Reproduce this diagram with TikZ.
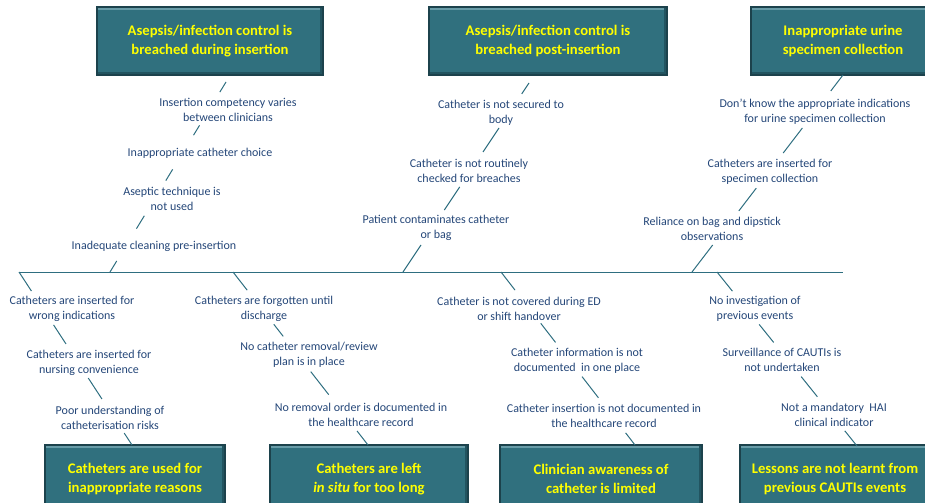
\documentclass[tikz,border=0pt]{standalone}
\usepackage{fontspec}
\setmainfont{Carlito}
\usetikzlibrary{calc}
\definecolor{boneteal}{RGB}{46,110,128}
\definecolor{boxteal}{RGB}{48,112,126}
\definecolor{boxedge}{RGB}{28,66,76}
\definecolor{boxlight}{RGB}{104,156,168}
\definecolor{boxdark}{RGB}{34,84,96}
\definecolor{causeblue}{RGB}{36,70,120}
\definecolor{effectyellow}{RGB}{255,255,0}
\tikzset{
  effect/.style={rectangle, draw=boxedge, line width=0.8pt, fill=boxteal, text=effectyellow,
    font=\fontsize{11}{14}\selectfont\bfseries, align=center, minimum height=51pt,
    path picture={
      \fill[boxlight] (path picture bounding box.north west) rectangle ([yshift=-2.2pt]path picture bounding box.north east);
      \fill[boxdark] (path picture bounding box.south east) rectangle ([xshift=-2.2pt]path picture bounding box.north east);
      \fill[boxdark] (path picture bounding box.south west) rectangle ([yshift=2.2pt]path picture bounding box.south east);
    }},
  cause/.style={text=causeblue, font=\fontsize{9}{11.25}\selectfont, align=center, inner sep=1pt},
  bone/.style={draw=boneteal, line width=0.75pt}
}

\begin{document}
\begin{tikzpicture}[x=0.75pt, y=-0.75pt]
  \useasboundingbox (0,0) rectangle (925,503);
  \clip (0,0) rectangle (925,503);

  % effect boxes, top row
  \node[effect, minimum width=169.5pt] (insertion) at (210,41) {Asepsis/infection control is\\breached during insertion};
  \node[effect, minimum width=178.5pt] (postinsert) at (548,41) {Asepsis/infection control is\\breached post-insertion};
  \node[effect, minimum width=138pt] (specimen) at (843,41) {Inappropriate urine\\specimen collection};

  % effect boxes, bottom row
  \node[effect, minimum width=135pt] (reasons) at (135,479) {Catheters are used for\\inappropriate reasons};
  \node[effect, minimum width=148.5pt] (toolong) at (369,479) {Catheters are left\\\textit{in situ} for too long};
  \node[effect, minimum width=151.5pt] (awareness) at (601,479) {Clinician awareness of\\catheter is limited};
  \node[effect, minimum width=142.5pt] (lessons) at (835,479) {Lessons are not learnt from\\previous CAUTIs events};

  % causes above the spine
  \node[cause] (competency) at (228,109.5) {Insertion competency varies\\between clinicians};
  \node[cause] (choice) at (200,153) {Inappropriate catheter choice};
  \node[cause] (aseptic) at (172,199) {Aseptic technique is\\not used};
  \node[cause] (cleaning) at (154,246) {Inadequate cleaning pre-insertion};

  \node[cause] (secured) at (501,112.5) {Catheter is not secured to\\body};
  \node[cause] (checked) at (469,170.5) {Catheter is not routinely\\checked for breaches};
  \node[cause] (contaminates) at (436,228) {Patient contaminates catheter\\or bag};

  \node[cause] (indications) at (815,111.5) {Don’t know the appropriate indications\\for urine specimen collection};
  \node[cause] (forspecimen) at (770,171.5) {Catheters are inserted for\\specimen collection};
  \node[cause] (dipstick) at (712,228.5) {Reliance on bag and dipstick\\observations};

  % causes below the spine
  \node[cause] (wrongind) at (72,308.5) {Catheters are inserted for\\wrong indications};
  \node[cause] (convenience) at (89,363) {Catheters are inserted for\\nursing convenience};
  \node[cause] (risks) at (110,417.5) {Poor understanding of\\catheterisation risks};

  \node[cause] (forgotten) at (264,308.5) {Catheters are forgotten until\\discharge};
  \node[cause] (noplan) at (309,355) {No catheter removal/review\\plan is in place};
  \node[cause] (noorder) at (361,414.5) {No removal order is documented in\\the healthcare record};

  \node[cause] (handover) at (519,308.5) {Catheter is not covered during ED\\or shift handover};
  \node[cause] (oneplace) at (577,360.5) {Catheter information is not\\documented~ in one place};
  \node[cause] (notdocumented) at (604,416) {Catheter insertion is not documented in\\the healthcare record};

  \node[cause] (noinvestigation) at (755,309) {No investigation of\\previous events};
  \node[cause] (surveillance) at (782,360) {Surveillance of CAUTIs is\\not undertaken};
  \node[cause] (mandatory) at (834,414.5) {Not a mandatory~ HAI\\clinical indicator};

  % spine and bone ends
  \coordinate (spinestart) at (19,272);
  \coordinate (spineend) at (843,272);
  \coordinate (insertionfoot) at (110,272);
  \coordinate (insertiontip) at (226,82);
  \coordinate (postfoot) at (403,272);
  \coordinate (posttip) at (529,83);
  \coordinate (specimenfoot) at (692,272);
  \coordinate (specimentip) at (843,75);
  \coordinate (reasonstip) at (132,445);
  \coordinate (toolongfoot) at (233,272);
  \coordinate (toolongtip) at (368,445);
  \coordinate (awarenessfoot) at (501,272);
  \coordinate (awarenesstip) at (635,445);
  \coordinate (lessonsfoot) at (717,272);
  \coordinate (lessonstip) at (857,446);

  \draw[bone] (spinestart) -- (spineend);

  % bones, broken round the causes
  \draw[bone] (insertionfoot) -- ($(insertionfoot)!.058!(insertiontip)$)
    ($(insertionfoot)!.228!(insertiontip)$) -- ($(insertionfoot)!.296!(insertiontip)$)
    ($(insertionfoot)!.481!(insertiontip)$) -- ($(insertionfoot)!.540!(insertiontip)$)
    ($(insertionfoot)!.720!(insertiontip)$) -- ($(insertionfoot)!.772!(insertiontip)$)
    ($(insertionfoot)!.947!(insertiontip)$) -- (insertiontip);
  \draw[bone] (postfoot) -- ($(postfoot)!.143!(posttip)$)
    ($(postfoot)!.328!(posttip)$) -- ($(postfoot)!.450!(posttip)$)
    ($(postfoot)!.635!(posttip)$) -- ($(postfoot)!.762!(posttip)$)
    ($(postfoot)!.942!(posttip)$) -- (posttip);
  \draw[bone] (specimenfoot) -- ($(specimenfoot)!.137!(specimentip)$)
    ($(specimenfoot)!.310!(specimentip)$) -- ($(specimenfoot)!.426!(specimentip)$)
    ($(specimenfoot)!.604!(specimentip)$) -- ($(specimenfoot)!.731!(specimentip)$)
    ($(specimenfoot)!.919!(specimentip)$) -- (specimentip);

  \draw[bone] (spinestart) -- ($(spinestart)!.110!(reasonstip)$)
    ($(spinestart)!.306!(reasonstip)$) -- ($(spinestart)!.416!(reasonstip)$)
    ($(spinestart)!.613!(reasonstip)$) -- ($(spinestart)!.734!(reasonstip)$)
    ($(spinestart)!.931!(reasonstip)$) -- (reasonstip);
  \draw[bone] (toolongfoot) -- ($(toolongfoot)!.105!(toolongtip)$)
    ($(toolongfoot)!.302!(toolongtip)$) -- ($(toolongfoot)!.372!(toolongtip)$)
    ($(toolongfoot)!.576!(toolongtip)$) -- ($(toolongfoot)!.709!(toolongtip)$)
    ($(toolongfoot)!.919!(toolongtip)$) -- (toolongtip);
  \draw[bone] (awarenessfoot) -- ($(awarenessfoot)!.105!(awarenesstip)$)
    ($(awarenessfoot)!.297!(awarenesstip)$) -- ($(awarenessfoot)!.407!(awarenesstip)$)
    ($(awarenessfoot)!.605!(awarenesstip)$) -- ($(awarenessfoot)!.727!(awarenesstip)$)
    ($(awarenessfoot)!.930!(awarenesstip)$) -- (awarenesstip);
  \draw[bone] (lessonsfoot) -- ($(lessonsfoot)!.110!(lessonstip)$)
    ($(lessonsfoot)!.301!(lessonstip)$) -- ($(lessonsfoot)!.405!(lessonstip)$)
    ($(lessonsfoot)!.601!(lessonstip)$) -- ($(lessonsfoot)!.717!(lessonstip)$)
    ($(lessonsfoot)!.913!(lessonstip)$) -- (lessonstip);
\end{tikzpicture}
\end{document}
